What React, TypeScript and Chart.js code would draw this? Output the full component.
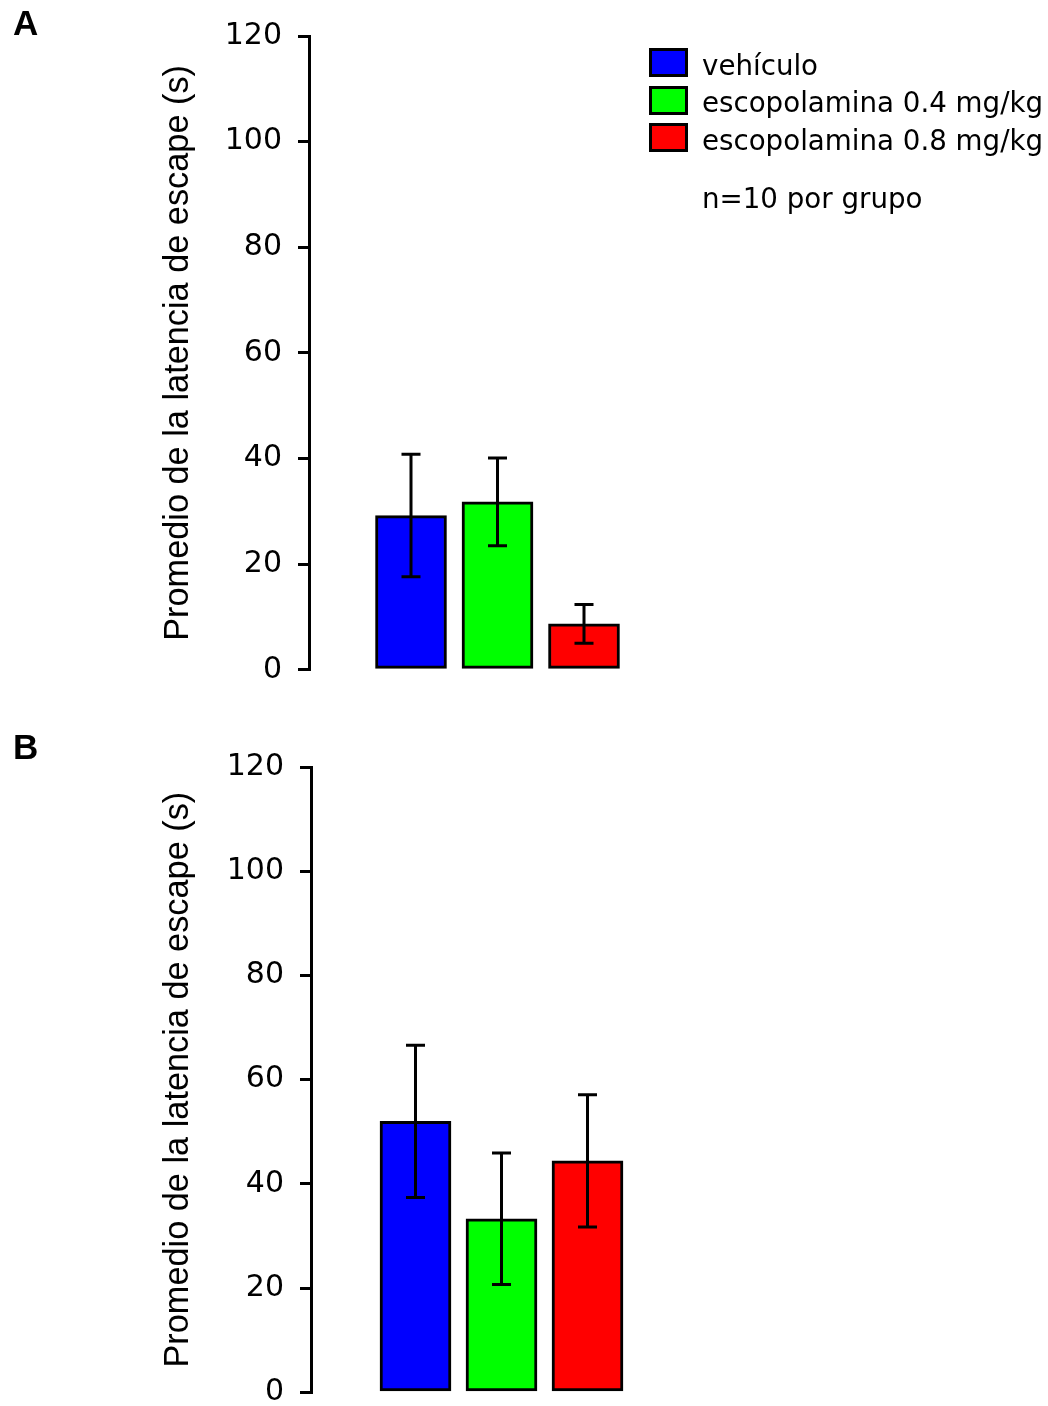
import React, { useEffect, useRef } from "react";
import { Chart, registerables } from "chart.js";

Chart.register(...registerables);

// ---- data ----
const groupLabels = ["vehículo", "escopolamina 0.4 mg/kg", "escopolamina 0.8 mg/kg"];
const groupColors = ["#0000ff", "#00ff00", "#ff0000"];
const groupPositions = [1, 2, 3];
const meansA = [29.2, 31.8, 8.7];
const errorsA = [11.6, 8.3, 3.65];
const meansB = [52.0, 33.3, 44.4];
const errorsB = [14.6, 12.6, 12.7];
const yTicks = [0, 20, 40, 60, 80, 100, 120];
const yTitle = "Promedio de la latencia de escape (s)";
const panelLetters = ["A", "B"];
const noteText = "n=10 por grupo";

const errorBarPlugin = {
  id: "errorBars",
  afterDatasetsDraw(chart: any, _args: any, opts: any) {
    const errs: number[] = opts.errors || [];
    const meta = chart.getDatasetMeta(0);
    const y = chart.scales.y;
    const ctx = chart.ctx;
    const cap = opts.capHalf || 9.5;
    ctx.save();
    ctx.strokeStyle = "#000";
    ctx.lineWidth = 3;
    ctx.lineCap = "butt";
    meta.data.forEach((bar: any, i: number) => {
      const raw = chart.data.datasets[0].data[i];
      const v = typeof raw === "number" ? raw : raw.y;
      const e = errs[i];
      const top = y.getPixelForValue(v + e);
      const bot = y.getPixelForValue(v - e);
      const x = bar.x;
      ctx.beginPath();
      ctx.moveTo(x, top);
      ctx.lineTo(x, bot);
      ctx.moveTo(x - cap, top);
      ctx.lineTo(x + cap, top);
      ctx.moveTo(x - cap, bot);
      ctx.lineTo(x + cap, bot);
      ctx.stroke();
    });
    ctx.restore();
  },
};

type PanelProps = {
  top: number;
  canvasHeight: number;
  axisX: number;
  plotTop: number;
  plotBottom: number;
  unitPx: number;
  firstCenter: number;
  means: number[];
  errors: number[];
};

const W = 1048;

function Panel(p: PanelProps) {
  const ref = useRef<HTMLCanvasElement | null>(null);
  useEffect(() => {
    if (!ref.current) return;
    const xMin = groupPositions[0] - (p.firstCenter - p.axisX) / p.unitPx;
    const chart = new Chart(ref.current, {
      type: "bar",
      data: {
        datasets: [
          {
            label: "latencia",
            data: groupPositions.map((x, i) => ({ x, y: p.means[i] })),
            backgroundColor: groupColors,
            borderColor: "#000",
            borderWidth: 3,
            borderSkipped: false,
            barThickness: 71,
          } as any,
        ],
      },
      options: {
        responsive: false,
        animation: false,
        devicePixelRatio: 1,
        layout: {
          padding: {
            left: 0,
            top: p.plotTop - p.top,
            bottom: p.top + p.canvasHeight - p.plotBottom,
            right: W - p.axisX - 4 * p.unitPx,
          },
        },
        plugins: {
          legend: { display: false },
          tooltip: { enabled: false },
          errorBars: { errors: p.errors, capHalf: 9.5 },
        } as any,
        scales: {
          x: {
            type: "linear",
            min: xMin,
            max: xMin + 4,
            offset: false,
            display: false,
          },
          y: {
            type: "linear",
            min: yTicks[0],
            max: yTicks[yTicks.length - 1],
            afterBuildTicks: (scale: any) => {
              scale.ticks = yTicks.map((v) => ({ value: v }));
            },
            afterFit: (scale: any) => {
              scale.width = p.axisX;
            },
            border: { display: true, color: "#000", width: 3 },
            grid: {
              drawOnChartArea: false,
              drawTicks: true,
              tickLength: 11,
              tickWidth: 3,
              lineWidth: 3,
              color: "#000",
            },
            ticks: {
              color: "#000",
              padding: 16,
              font: { family: "'DejaVu Sans'", size: 30 },
            },
            title: {
              display: true,
              text: yTitle,
              color: "#000",
              font: { family: "'Liberation Sans', Arial", size: 34.3 },
              padding: { top: 157.5, bottom: 0 },
            },
          },
        },
      },
      plugins: [errorBarPlugin as any],
    });
    return () => chart.destroy();
  }, []);
  return (
    <canvas
      ref={ref}
      width={W}
      height={p.canvasHeight}
      style={{ position: "absolute", left: 0, top: p.top, width: W, height: p.canvasHeight }}
    />
  );
}

export default function App() {
  const letterStyle: React.CSSProperties = {
    position: "absolute",
    left: 13,
    fontFamily: "'Liberation Sans', Arial, sans-serif",
    fontWeight: "bold",
    fontSize: 35,
    lineHeight: "35px",
    color: "#000",
  };
  const legendText: React.CSSProperties = {
    position: "absolute",
    left: 702,
    fontFamily: "'DejaVu Sans', sans-serif",
    fontSize: 27.7,
    lineHeight: "29px",
    color: "#000",
    whiteSpace: "nowrap",
  };
  return (
    <div
      style={{
        position: "absolute",
        left: 0,
        top: 0,
        width: W,
        height: 1406,
        overflow: "hidden",
        background: "#fff",
      }}
    >
      <Panel
        top={0}
        canvasHeight={712}
        axisX={309}
        plotTop={36}
        plotBottom={669.8}
        unitPx={86.5}
        firstCenter={411}
        means={meansA}
        errors={errorsA}
      />
      <Panel
        top={720}
        canvasHeight={740}
        axisX={311}
        plotTop={767}
        plotBottom={1392.3}
        unitPx={86}
        firstCenter={415.5}
        means={meansB}
        errors={errorsB}
      />
      <div style={{ ...letterStyle, top: 5.4 }}>{panelLetters[0]}</div>
      <div style={{ ...letterStyle, top: 729.4 }}>{panelLetters[1]}</div>
      {groupLabels.map((label, i) => (
        <React.Fragment key={label}>
          <div
            style={{
              position: "absolute",
              left: 649,
              top: 48.3 + i * 37.5,
              width: 39,
              height: 29,
              boxSizing: "border-box",
              border: "3px solid #000",
              background: groupColors[i],
            }}
          />
          <div style={{ ...legendText, top: 50.8 + i * 37.5 }}>{label}</div>
        </React.Fragment>
      ))}
      <div style={{ ...legendText, top: 183.9 }}>{noteText}</div>
    </div>
  );
}
